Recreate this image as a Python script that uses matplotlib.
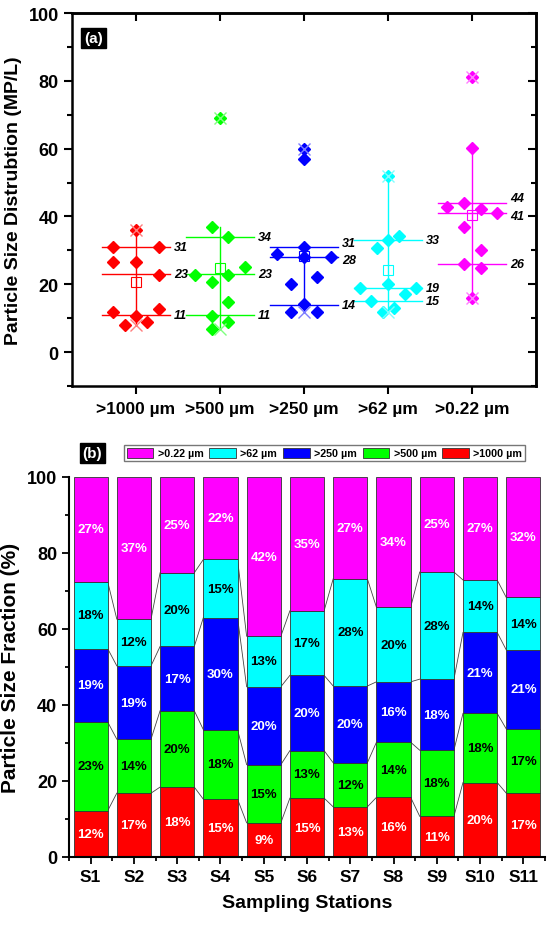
import numpy as np
import matplotlib.pyplot as plt
from matplotlib.patches import Patch
from matplotlib.ticker import MultipleLocator

plt.rcParams['font.family'] = ['Liberation Sans', 'DejaVu Sans']
plt.rcParams['font.weight'] = 'bold'

# ---- panel (a): MP/L per size class ----
size_classes = [">1000 µm", ">500 µm", ">250 µm", ">62 µm", ">0.22 µm"]
class_colors = ["#ff0000", "#00ff00", "#0000ff", "#00ffff", "#ff00ff"]
cross_colors = ["#ff7f7f", "#7fff7f", "#7f7fff", "#7fffff", "#ff7fff"]

mp_1000 = [36.1, 30.9, 30.9, 26.7, 26.7, 22.8, 12.7, 11.7, 10.7, 8.8, 8.0]
mp_500 = [69.0, 36.8, 33.8, 25.0, 22.8, 22.8, 20.6, 14.9, 10.7, 8.8, 6.7]
mp_250 = [59.9, 56.9, 31.1, 28.9, 28.1, 28.1, 22.0, 20.0, 14.1, 11.9, 11.9]
mp_62 = [52.0, 34.1, 33.1, 30.8, 20.2, 19.0, 19.0, 17.0, 15.1, 12.9, 11.9]
mp_022 = [81.0, 60.1, 44.1, 42.9, 42.1, 41.0, 36.9, 30.0, 25.9, 24.9, 15.9]

# horizontal spread of the points inside each class (as drawn by the original)
jit_1000 = [0, -0.27, 0.27, -0.27, 0, 0.27, 0.27, -0.27, 0, 0.135, -0.135]
jit_500 = [0, -0.1, 0.1, 0.3, -0.3, 0.1, -0.1, 0.1, -0.1, 0.1, -0.1]
jit_250 = [0, 0, 0, -0.325, 0, 0.32, 0.16, -0.16, 0, -0.16, 0.16]
jit_62 = [0, 0.13, 0, -0.13, 0, -0.33, 0.33, 0.2, -0.2, 0.07, -0.06]
jit_022 = [0, 0, -0.1, -0.3, 0.1, 0.3, -0.1, 0.1, -0.1, 0.1, 0]

q1_vals = [11, 11, 14, 15, 26]
median_vals = [23, 23, 28, 19, 41]
q3_vals = [31, 34, 31, 33, 44]

# ---- panel (b): fraction per station ----
stations = ["S1", "S2", "S3", "S4", "S5", "S6", "S7", "S8", "S9", "S10", "S11"]
frac_1000 = [12.2, 16.8, 18.4, 15.2, 9.0, 15.5, 13.2, 15.7, 10.7, 19.6, 16.8]
frac_500 = [23.3, 14.2, 20.1, 18.3, 15.3, 12.5, 11.6, 14.5, 17.4, 18.2, 16.9]
frac_250 = [19.3, 19.3, 16.9, 29.5, 20.5, 19.8, 20.2, 15.9, 18.7, 21.3, 20.8]
frac_62 = [17.6, 12.3, 19.4, 15.3, 13.3, 17.0, 28.2, 19.6, 28.2, 13.8, 13.8]
frac_022 = [27.6, 37.4, 25.2, 21.7, 41.9, 35.2, 26.8, 34.3, 25.0, 27.1, 31.7]

lab_1000 = [12, 17, 18, 15, 9, 15, 13, 16, 11, 20, 17]
lab_500 = [23, 14, 20, 18, 15, 13, 12, 14, 18, 18, 17]
lab_250 = [19, 19, 17, 30, 20, 20, 20, 16, 18, 21, 21]
lab_62 = [18, 12, 20, 15, 13, 17, 28, 20, 28, 14, 14]
lab_022 = [27, 37, 25, 22, 42, 35, 27, 34, 25, 27, 32]


def draw_distribution(ax):
    groups = [mp_1000, mp_500, mp_250, mp_62, mp_022]
    jitters = [jit_1000, jit_500, jit_250, jit_62, jit_022]
    half = 0.4
    for i, (vals, jit) in enumerate(zip(groups, jitters)):
        x0 = i + 1
        col = class_colors[i]
        vals = np.array(vals)
        iqr = q3_vals[i] - q1_vals[i]
        hi = vals[vals <= q3_vals[i] + 1.5 * iqr].max()
        lo = vals[vals >= q1_vals[i] - 1.5 * iqr].min()
        ax.plot([x0, x0], [lo, hi], color=col, lw=1.0, zorder=2)
        stats = [q1_vals[i], median_vals[i], q3_vals[i]]
        for j, v in enumerate(stats):
            ax.plot([x0 - half, x0 + half], [v, v], color=col, lw=1.0, zorder=2)
            # nudge labels of lines that sit very close together
            dy = 0
            if j == 2 and v - stats[1] < 5:
                dy = 1.3
            if j == 1 and stats[2] - v < 5:
                dy = -0.8
            ax.text(x0 + half + 0.05, v + dy, str(v), ha='left', va='center',
                    fontsize=9, style='italic', fontweight='bold', color='black')
        ax.plot(x0 + np.array(jit), vals, 'D', color=col, ms=6, mec=col, zorder=3)
        ax.plot(x0, vals.mean(), 's', ms=7.5, mfc='none', mec=col, mew=0.8, zorder=4)
        ax.plot([x0, x0], [vals.min(), vals.max()], 'x', ms=8.5, color=cross_colors[i],
                mew=1.0, zorder=4)

    ax.set_xlim(0.24, 5.76)
    ax.set_ylim(-10, 100)
    ax.set_xticks(range(1, 6))
    ax.set_xticklabels(size_classes, fontsize=12.5, fontweight='bold')
    ax.yaxis.set_major_locator(MultipleLocator(20))
    ax.yaxis.set_minor_locator(MultipleLocator(10))
    ax.set_yticks(range(0, 101, 20))
    ax.tick_params(axis='both', which='both', width=1.5, labelsize=13)
    ax.tick_params(axis='x', labelsize=12.5)
    ax.tick_params(axis='both', which='major', length=6, direction='out')
    ax.tick_params(axis='y', which='minor', length=3.5, direction='out')
    ax.tick_params(axis='x', which='major', pad=5)
    for lbl in ax.get_yticklabels():
        lbl.set_fontweight('bold')
    # mirrored ticks on top and right, pointing inwards
    sec_x = ax.secondary_xaxis('top')
    sec_x.set_xticks(range(1, 6))
    sec_x.set_xticklabels([])
    sec_x.tick_params(direction='in', length=6, width=1.5)
    sec_y = ax.secondary_yaxis('right')
    sec_y.yaxis.set_major_locator(MultipleLocator(20))
    sec_y.yaxis.set_minor_locator(MultipleLocator(10))
    sec_y.set_yticklabels([])
    sec_y.tick_params(which='major', direction='in', length=6, width=1.5)
    sec_y.tick_params(which='minor', direction='in', length=3.5, width=1.5)
    for sp in ax.spines.values():
        sp.set_linewidth(1.8)
    for sp in list(sec_x.spines.values()) + list(sec_y.spines.values()):
        sp.set_linewidth(1.8)
    ax.set_ylabel("Particle Size Distrubtion (MP/L)", fontsize=14, fontweight='bold',
                  labelpad=5)
    ax.text(0.046, 0.932, "(a)", transform=ax.transAxes, ha='center', va='center',
            fontsize=11, fontweight='bold', color='white',
            bbox=dict(boxstyle='square,pad=0.2', fc='black', ec='black'))


def draw_fractions(ax):
    segments = [frac_1000, frac_500, frac_250, frac_62, frac_022]
    labels = [lab_1000, lab_500, lab_250, lab_62, lab_022]
    text_colors = ['white', 'black', 'white', 'black', 'white']
    x = np.arange(1, len(stations) + 1)
    width = 0.79
    bottom = np.zeros(len(stations))
    tops = []
    for k, seg in enumerate(segments):
        seg = np.array(seg)
        ax.bar(x, seg, width, bottom=bottom, color=class_colors[k],
               edgecolor='#333333', linewidth=0.6, zorder=2)
        for xi, b, h, lab in zip(x, bottom, seg, labels[k]):
            ax.text(xi, b + h / 2, f"{lab}%", ha='center', va='center', fontsize=9.5,
                    fontweight='bold', color=text_colors[k], zorder=3)
        bottom = bottom + seg
        tops.append(bottom.copy())
    # connector lines between neighbouring bars
    for lev in tops[:-1]:
        for i in range(len(x) - 1):
            ax.plot([x[i] + width / 2, x[i + 1] - width / 2], [lev[i], lev[i + 1]],
                    color='#444444', lw=0.6, zorder=1)

    ax.set_xlim(0.5, 11.5)
    ax.set_ylim(0, 100)
    ax.set_xticks(x)
    ax.set_xticklabels(stations, fontsize=12.5, fontweight='bold')
    ax.xaxis.set_minor_locator(MultipleLocator(0.5))
    ax.yaxis.set_major_locator(MultipleLocator(20))
    ax.yaxis.set_minor_locator(MultipleLocator(10))
    ax.tick_params(axis='both', which='major', length=5, width=1.3, direction='out',
                   labelsize=13)
    ax.tick_params(axis='x', labelsize=12.5)
    ax.tick_params(axis='both', which='minor', length=3, width=1.3, direction='out')
    for lbl in ax.get_yticklabels():
        lbl.set_fontweight('bold')
    ax.spines['top'].set_visible(False)
    ax.spines['right'].set_visible(False)
    ax.spines['left'].set_linewidth(1.5)
    ax.spines['bottom'].set_linewidth(1.5)
    ax.set_ylabel("Particle Size Fraction (%)", fontsize=15, fontweight='bold', labelpad=5)
    ax.set_xlabel("Sampling Stations", fontsize=14, fontweight='bold', labelpad=7)


fig = plt.figure(figsize=(5.5, 9.28), dpi=100)
ax_a = fig.add_axes([72 / 550, 1 - 387 / 928, 464 / 550, 373 / 928])
ax_b = fig.add_axes([69 / 550, 1 - 858 / 928, 476 / 550, 380 / 928])
draw_distribution(ax_a)
draw_fractions(ax_b)

legend_order = [4, 3, 2, 1, 0]
handles = [Patch(facecolor=class_colors[k], edgecolor='#333333', linewidth=0.6)
           for k in legend_order]
names = [size_classes[k] for k in legend_order]
leg = fig.legend(handles, names, loc='center', bbox_to_anchor=(324.5 / 550, 1 - 454 / 928),
                 ncol=5, fontsize=7.7, frameon=True, fancybox=False, edgecolor='#555555',
                 handlelength=2.5, handleheight=1.1, handletextpad=0.4,
                 columnspacing=0.55, borderpad=0.25, borderaxespad=0)
leg.get_frame().set_linewidth(1.0)
for t in leg.get_texts():
    t.set_fontweight('bold')

fig.text(92.5 / 550, 1 - 454 / 928, "(b)", ha='center', va='center', fontsize=11,
         fontweight='bold', color='white',
         bbox=dict(boxstyle='square,pad=0.2', fc='black', ec='black'))

fig.savefig("out.png", dpi=100)
